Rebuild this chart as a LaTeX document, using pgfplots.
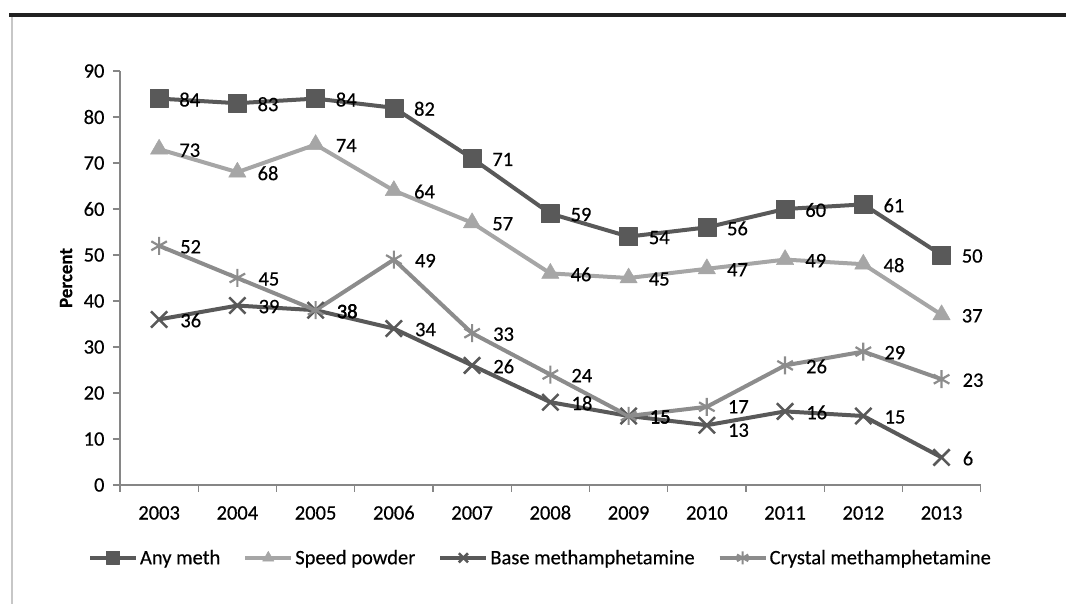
\documentclass[border=0pt]{standalone}
\usepackage{fontspec}
\setmainfont{Carlito}[RawFeature={embolden=0.4}]
\usepackage{pgfplots}
\pgfplotsset{compat=1.18}
\definecolor{darkser}{HTML}{595959}
\definecolor{lightser}{HTML}{A6A6A6}
\definecolor{midser}{HTML}{8C8C8C}
\definecolor{axisgray}{HTML}{868686}
\newcommand{\chartfont}{\fontsize{20.5}{24}\selectfont}

\begin{document}
\begin{tikzpicture}[x=1pt,y=1pt]
\useasboundingbox (0,0) rectangle (1066,604);
% page frame: thick rule on top, thin grey rule on the left
\fill[black!87] (8.5,586.7) rectangle (1066,591.3);
\draw[black!22, line width=2pt] (11.5,0) -- (11.5,586.7);
\begin{axis}[
    at={(120pt,119pt)}, anchor=south west,
    scale only axis, width=860.7pt, height=414pt,
    xmin=-0.5, xmax=10.5, ymin=0, ymax=90,
    ytick={0,10,20,30,40,50,60,70,80,90},
    xtick={-0.5,0.5,1.5,2.5,3.5,4.5,5.5,6.5,7.5,8.5,9.5,10.5},
    x tick label as interval,
    xticklabels={2003,2004,2005,2006,2007,2008,2009,2010,2011,2012,2013},
    axis x line*=bottom, axis y line*=left,
    axis line style={axisgray, line width=1.3pt},
    every tick/.style={axisgray, line width=1.3pt},
    tick align=outside, major tick length=7pt,
    /pgf/number format/assume math mode=true,
    tick label style={font=\chartfont, black},
    xticklabel style={text height=13pt, text depth=0pt, anchor=north, yshift=-11pt},
    yticklabel style={xshift=-5pt},
    ylabel={\fontsize{19}{23}\selectfont\bfseries Percent},
    every axis y label/.style={at={(axis description cs:-0.0627,0.5)}, rotate=90, anchor=center},
    nodes near coords,
    every node near coord/.style={font=\chartfont, black, anchor=west, inner sep=0pt, xshift=20pt, yshift=-1pt},
    legend style={draw=none, fill=none, font=\chartfont,
        at={(axis description cs:0.4885,-0.176)}, anchor=center,
        legend columns=4,
        /tikz/every even column/.append style={column sep=21pt}},
    legend image code/.code={%
        \draw[mark repeat=2, mark phase=2, mark size=6.5pt]
        plot coordinates {(0pt,0pt) (23pt,0pt) (46pt,0pt)};},
    line join=round,
]
\addplot[darkser, line width=4pt, mark=square*, mark size=9pt,
    mark options={solid, fill=darkser, line width=0.5pt}] coordinates {
  (0,84) (1,83) (2,84) (3,82) (4,71) (5,59) (6,54) (7,56) (8,60) (9,61) (10,50)
};
\addlegendentry{Any meth}
\addplot[lightser, line width=4pt, mark=triangle*, mark size=10pt,
    mark options={solid, fill=lightser, line width=0.5pt}] coordinates {
  (0,73) (1,68) (2,74) (3,64) (4,57) (5,46) (6,45) (7,47) (8,49) (9,48) (10,37)
};
\addlegendentry{Speed powder}
\addplot[darkser, line width=4pt, mark=x, mark size=11.5pt,
    mark options={solid, line width=2.5pt},
    coordinate style/.condition={x==7}{yshift=-4pt}] coordinates {
  (0,36) (1,39) (2,38) (3,34) (4,26) (5,18) (6,15) (7,13) (8,16) (9,15) (10,6)
};
\addlegendentry{Base methamphetamine}
\addplot[midser, line width=4pt, mark=asterisk, mark size=9pt,
    mark options={solid, line width=2.2pt},
    coordinate style/.condition={x==7}{yshift=1pt}] coordinates {
  (0,52) (1,45) (2,38) (3,49) (4,33) (5,24) (6,15) (7,17) (8,26) (9,29) (10,23)
};
\addlegendentry{Crystal methamphetamine}
\end{axis}
\end{tikzpicture}
\end{document}
